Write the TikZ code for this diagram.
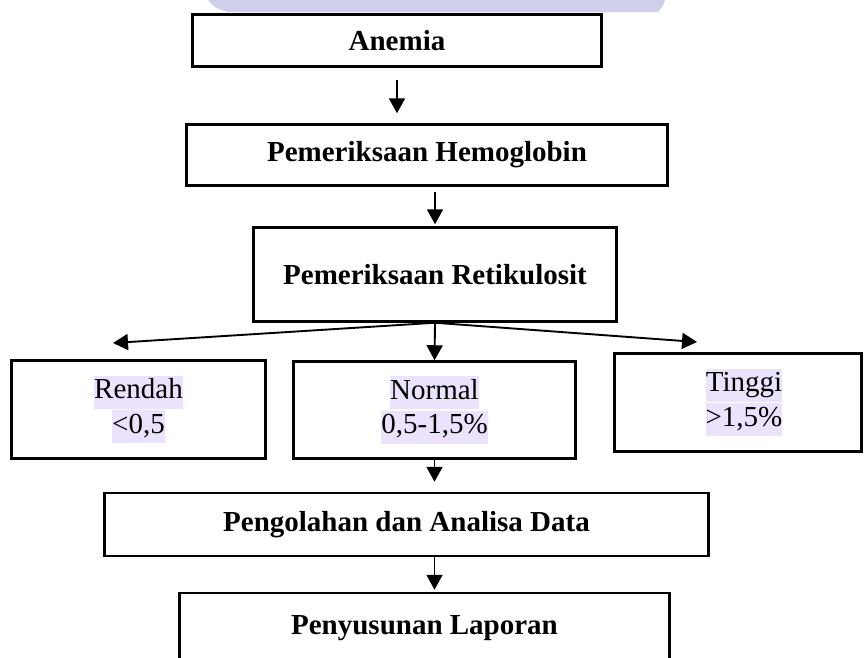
\documentclass[tikz,border=0pt]{standalone}
\usepackage{fontspec}
\setmainfont{Liberation Serif}
\usetikzlibrary{arrows.meta,calc}
\definecolor{hlpurple}{HTML}{EBE3FD}
\definecolor{markpurple}{HTML}{CFCFEC}
\setlength{\fboxsep}{0pt}
\newcommand{\hl}[1]{\colorbox{hlpurple}{\rule[-10pt]{0pt}{33pt}#1}}
\tikzset{
  box/.style={draw, line width=2.5pt, inner sep=0pt, font=\fontsize{29}{34.5}\selectfont},
  bbox/.style={box, font=\fontsize{29}{34}\selectfont\bfseries},
  arr/.style={line width=1.9pt, -{Triangle[width=16pt,length=15pt]}}
}

\begin{document}
\begin{tikzpicture}[x=1pt,y=-1pt]
\useasboundingbox (0,0) rectangle (864,657);
\clip (0,0) rectangle (864,657);
\fill[markpurple] (208,0) -- (665,0) .. controls (663,6) .. (658,12) -- (228,12) .. controls (215,8) .. (208,0) -- cycle;

\node[bbox, minimum width=409pt, minimum height=52pt] (anemia) at (397,40.5) {\raisebox{-1pt}{Anemia}};
\node[bbox, minimum width=481pt, minimum height=61pt] (hemo) at (427,155) {Pemeriksaan Hemoglobin};
\node[bbox, minimum width=363pt, minimum height=94pt] (retik) at (435,274.5) {\raisebox{-4pt}{Pemeriksaan Retikulosit}};

\node[box, align=center, minimum width=254pt, minimum height=98pt] (rendah) at (138.5,409.5) {\hl{Rendah}\\\hl{<0,5}};
\node[box, align=center, minimum width=282pt, minimum height=97pt] (normal) at (434.5,410) {\hl{Normal}\\\hl{0,5-1,5\%}};
\node[box, align=center, minimum width=247pt, minimum height=98pt] (tinggi) at (738,402.5) {\hspace*{12pt}\hl{Tinggi}\\\hspace*{12pt}\hl{>1,5\%}};

\node[bbox, minimum width=604pt, minimum height=63pt] (olah) at (406.5,524.5) {Pengolahan dan Analisa Data};
\node[bbox, minimum width=490pt, minimum height=70pt] (susun) at (424.5,628) {\raisebox{4pt}{Penyusunan Laporan}};

\coordinate (lowtip) at (113,343);
\coordinate (hightip) at (697,342);

\draw[arr] ($(anemia.south)+(0,12)$) -- ($(anemia.south |- hemo.north)+(0,-10)$);
\draw[arr] ($(retik.north |- hemo.south)+(0,5)$) -- ($(retik.north)+(0,-2)$);
\draw[arr] (retik.south) -- (lowtip);
\draw[arr] (retik.south) -- (hightip);
\draw[arr] (retik.south) -- (normal.north);
\draw[arr] (normal.south) -- ($(normal.south |- olah.north)+(0,-10)$);
\draw[arr] (normal.south |- olah.south) -- ($(normal.south |- susun.north)+(0,-2)$);
\end{tikzpicture}
\end{document}
